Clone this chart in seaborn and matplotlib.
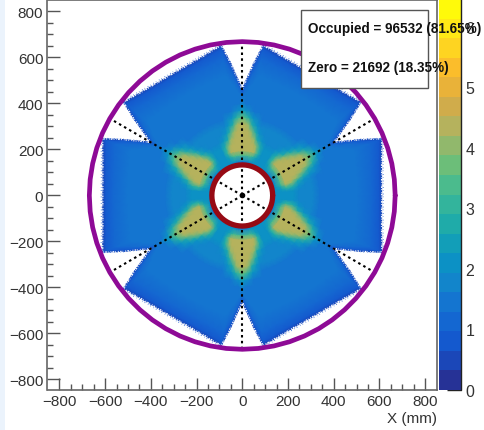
import numpy as np
import matplotlib
matplotlib.use("Agg")
import matplotlib.pyplot as plt
import seaborn as sns
from matplotlib.colors import ListedColormap, BoundaryNorm
from matplotlib.cm import ScalarMappable
from matplotlib.patches import Rectangle

# occupancy, one 60 degree sector (all six look the same)
# columns: angle from the sector middle, mirrored for the other half
sector_angle = [0, 5, 10, 15, 18, 22, 25, 28, 30]
edge_radius = [610, 612, 619, 631, 642, 658, 575, 500, 460]

ring_radius = [128, 150, 175, 195, 225, 250, 280, 310, 340, 370, 400]
occupancy = [
    [1.8, 1.8, 1.7, 1.6, 1.5, 1.4, 1.3, 1.2, 1.2],
    [2.0, 2.0, 2.0, 2.0, 2.0, 1.9, 1.8, 1.7, 1.6],
    [2.1, 2.1, 2.4, 3.0, 3.3, 3.4, 3.4, 3.4, 3.4],
    [2.1, 2.2, 3.0, 4.3, 4.4, 4.4, 4.4, 4.4, 4.4],
    [2.0, 2.1, 2.7, 3.9, 4.3, 4.4, 4.45, 4.45, 4.45],
    [1.9, 1.9, 2.2, 2.9, 3.9, 4.4, 4.45, 4.45, 4.45],
    [1.8, 1.8, 1.9, 2.2, 2.9, 4.0, 4.4, 4.45, 4.45],
    [1.7, 1.7, 1.7, 1.8, 2.1, 2.9, 3.9, 4.3, 4.4],
    [1.6, 1.6, 1.6, 1.6, 1.7, 2.0, 2.6, 3.4, 3.8],
    [1.5, 1.5, 1.5, 1.5, 1.5, 1.6, 1.8, 2.2, 2.5],
    [1.45, 1.45, 1.45, 1.45, 1.45, 1.45, 1.5, 1.6, 1.7],
]
# from r=400 out to the sector edge
edge_fraction = [0.5, 0.8, 0.95, 1.0]
edge_occupancy = [
    [1.35, 1.35, 1.35, 1.35, 1.35, 1.35, 1.35, 1.35, 1.35],
    [1.2, 1.2, 1.2, 1.2, 1.2, 1.2, 1.2, 1.2, 1.2],
    [0.95, 0.95, 0.95, 0.95, 0.95, 0.95, 0.95, 0.95, 0.95],
    [0.5, 0.5, 0.5, 0.5, 0.5, 0.5, 0.5, 0.5, 0.5],
]

sector_middles = [0, 60, 120, 180, 240, 300]
spoke_angles = [30, 90, 150, 210, 270, 330]
spoke_length = 670
outer_circle = 669
inner_circle = 133

bird_colors = ["#263296", "#1455cd", "#1469d2", "#1482cd", "#0a96c3", "#1eaaaa",
               "#3cb996", "#6ebe78", "#aab464", "#d7aa46", "#fab92d", "#ffdc1e", "#fffa0a"]
z_max = 6.46
n_levels = 20

sns.set_theme(style="white", rc={"axes.edgecolor": "#666666", "axes.linewidth": 1.2})
plt.rcParams["font.family"] = ["Liberation Sans", "DejaVu Sans"]

W, H = 485, 431
fig = plt.figure(figsize=(W / 100, H / 100), dpi=100)
ax = fig.add_axes([47.5 / W, 1 - 391 / H, (437 - 47.5) / W, 390 / H])
cax = fig.add_axes([439 / W, 1 - 391 / H, 22.5 / W, 391 / H])

cmap = ListedColormap(sns.blend_palette(bird_colors, n_levels))
norm = BoundaryNorm(np.linspace(0, z_max, n_levels + 1), n_levels)

# mesh columns, mirrored around the sector middle
half_angle = np.array(sector_angle, float)
half_edge = np.array(edge_radius, float)
phi = np.r_[-half_angle[:0:-1], half_angle]
edge = np.r_[half_edge[:0:-1], half_edge]
values = np.array(occupancy + edge_occupancy)
values = np.c_[values[:, :0:-1], values]
radii = [np.full_like(edge, r) for r in ring_radius]
radii += [ring_radius[-1] + (edge - ring_radius[-1]) * f for f in edge_fraction]
radii = np.array(radii)

for mid in sector_middles:
    a = np.radians(phi + mid)
    X = radii * np.cos(a)
    Y = radii * np.sin(a)
    ax.pcolormesh(X, Y, values, cmap=cmap, norm=norm, shading="gouraud", zorder=1)
    # fuzzy sector edge: white specks on it, a few stray blue ones just outside
    sns.lineplot(x=X[-1], y=Y[-1], sort=False, estimator=None, ax=ax, color="white",
                 lw=0.9, linestyle=(0, (0.7, 1.0, 1.3, 0.8, 0.5, 1.6)), zorder=2, legend=False)
    sns.lineplot(x=(edge + 7) * np.cos(a), y=(edge + 7) * np.sin(a), sort=False, estimator=None,
                 ax=ax, color="#3f74d8", lw=0.7, linestyle=(0, (0.6, 2.2, 0.9, 3.0)), zorder=2,
                 legend=False)

# sector spokes
for ang in spoke_angles:
    a = np.radians(ang)
    sns.lineplot(x=[0, spoke_length * np.cos(a)], y=[0, spoke_length * np.sin(a)], sort=False,
                 estimator=None, ax=ax, color="black", lw=1.5, linestyle=(0, (1.2, 1.6)),
                 zorder=3, legend=False)
ax.plot([0], [0], "o", color="black", ms=3, zorder=3)

# detector circles
t = np.radians(np.arange(0, 361, 6))
sns.lineplot(x=outer_circle * np.cos(t), y=outer_circle * np.sin(t), sort=False, estimator=None,
             ax=ax, color="#8e0a96", lw=3.4, zorder=4, legend=False)
sns.lineplot(x=inner_circle * np.cos(t), y=inner_circle * np.sin(t), sort=False, estimator=None,
             ax=ax, color="#960a14", lw=3.8, zorder=4, legend=False)

ax.set_xlim(-852, 852)
ax.set_ylim(-846, 850)
ax.set_xticks(np.arange(-800, 801, 200))
ax.set_yticks(np.arange(-800, 801, 200))
ax.set_xticks(np.arange(-800, 801, 50), minor=True)
ax.set_yticks(np.arange(-800, 801, 50), minor=True)
ax.tick_params(which="major", direction="in", length=9, width=1, color="#555555",
               labelsize=11, labelcolor="#333333", bottom=True, left=True, pad=3)
ax.tick_params(which="minor", direction="in", length=4.5, width=1, color="#555555",
               bottom=True, left=True)
ax.set_xlabel("X (mm)", fontsize=11, color="#333333", loc="right", labelpad=2)
ax.set_ylabel("")

# colour scale
cb = fig.colorbar(ScalarMappable(norm=norm, cmap=cmap), cax=cax, drawedges=False,
                  ticks=[0, 1, 2, 3, 4, 5, 6], spacing="proportional")
cb.ax.set_yticklabels(["0", "1", "2", "3", "4", "5", "6"])
cb.ax.tick_params(direction="in", length=10, width=1, color="#222222", labelsize=11.5,
                  labelcolor="#333333", right=True, pad=3)
cb.outline.set_visible(False)
cax.plot([1, 1], [0, 1], transform=cax.transAxes, color="#222222", lw=1, clip_on=False)
cax.minorticks_off()

# stats box on top of everything, text runs over the colour scale
fig.add_artist(Rectangle((301 / W, 1 - 89 / H), 127 / W, 78 / H, transform=fig.transFigure,
                         facecolor="white", edgecolor="#555555", lw=1, zorder=5))
fig.text(308 / W, 1 - 29 / H, "Occupied = 96532 (81.65%)", fontsize=9.75, fontweight="bold",
         color="#111111", va="center", zorder=6)
fig.text(308 / W, 1 - 68 / H, "Zero = 21692 (18.35%)", fontsize=9.75, fontweight="bold",
         color="#111111", va="center", zorder=6)

# pale strip down the left of the screenshot
fig.add_artist(Rectangle((0, 0), 5 / W, 1, transform=fig.transFigure, facecolor="#ebf3fc",
                         edgecolor="none", zorder=-1))

fig.savefig("out.png", dpi=100)
